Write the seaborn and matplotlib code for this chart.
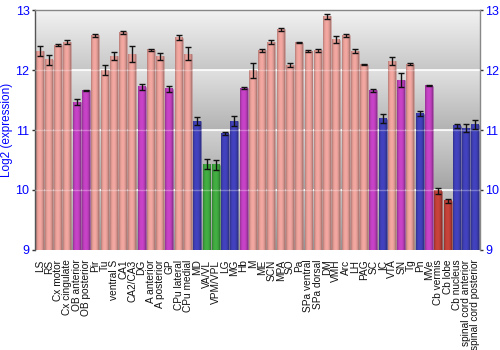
import numpy as np
import pandas as pd
import matplotlib
matplotlib.use('Agg')
import matplotlib.pyplot as plt
import seaborn as sns
from matplotlib.colors import to_rgb

categories = ['LS', 'RS', 'Cx motor', 'Cx cingulate', 'OB anterior', 'OB posterior', 'Pir', 'Tu',
              'ventral S', 'CA1', 'CA2/CA3', 'DG', 'A anterior', 'A posterior', 'GP', 'CPu lateral',
              'CPu medial', 'MD', 'VA/VL', 'VPM/VPL', 'LG', 'MG', 'Hb', 'M', 'ME', 'SCN', 'MPA', 'SO',
              'Pa', 'SPa ventral', 'SPa dorsal', 'DM', 'VMH', 'Arc', 'LH', 'PAG', 'SC', 'IC', 'VTA',
              'SN', 'Tg', 'Pn', 'MVe', 'Cb vermis', 'Cb lobe', 'Cb nucleus', 'spinal cord anterior',
              'spinal cord posterior']
values = [12.32, 12.17, 12.42, 12.47, 11.46, 11.66, 12.58, 12.00,
          12.23, 12.63, 12.27, 11.72, 12.34, 12.23, 11.69, 12.54,
          12.27, 11.15, 10.43, 10.42, 10.94, 11.15, 11.70, 11.99, 12.33, 12.47, 12.68, 12.08,
          12.46, 12.32, 12.33, 12.90, 12.51, 12.58, 12.32, 12.09, 11.66, 11.19, 12.15,
          11.83, 12.10, 11.27, 11.74, 9.99, 9.82, 11.07, 11.03,
          11.09]
errors = [0.08, 0.09, 0.02, 0.04, 0.05, 0.01, 0.03, 0.09,
          0.07, 0.02, 0.13, 0.05, 0.02, 0.06, 0.05, 0.04,
          0.11, 0.06, 0.08, 0.08, 0.03, 0.09, 0.02, 0.13, 0.03, 0.03, 0.03, 0.03,
          0.01, 0.01, 0.03, 0.04, 0.06, 0.03, 0.03, 0.01, 0.02, 0.07, 0.07,
          0.12, 0.01, 0.04, 0.01, 0.05, 0.03, 0.03, 0.07,
          0.08]
groups = ['s', 's', 's', 's', 'p', 'p', 's', 's',
          's', 's', 's', 'p', 's', 's', 'p', 's',
          's', 'b', 'g', 'g', 'b', 'b', 'p', 's', 's', 's', 's', 's',
          's', 's', 's', 's', 's', 's', 's', 's', 'p', 'b', 's',
          'p', 's', 'b', 'p', 'r', 'r', 'b', 'b',
          'b']

group_colors = {'s': '#e9a09a', 'p': '#c040c0', 'b': '#4040b8', 'g': '#40a840', 'r': '#c04038'}

sns.set_theme(style='white')
plt.rcParams['font.family'] = ['Liberation Sans', 'DejaVu Sans']

fig = plt.figure(figsize=(5, 3.5), dpi=100)
ax = fig.add_axes([0.07, 0.286, 0.89, 0.685])

df = pd.DataFrame({'region': categories, 'value': values, 'group': groups})
palette = {c: group_colors[g] for c, g in zip(categories, groups)}
sns.barplot(data=df, x='region', y='value', hue='region', palette=palette, legend=False,
            width=0.86, ax=ax, errorbar=None, saturation=1, zorder=2)

# background: per-band vertical gradient
bands = [(0.95, 0.78), (0.88, 0.70), (0.82, 0.64), (0.76, 0.58)]
rows = []
for top, bot in bands:
    rows.append(np.linspace(top, bot, 100))
bg = np.concatenate(rows)[:, None]
bg = np.repeat(bg[:, :, None], 3, axis=2)
ax.imshow(bg, extent=[0, 1, 0, 1], transform=ax.transAxes, aspect='auto', zorder=0,
          interpolation='bilinear')

# gradient overlay on bars
t = np.linspace(0, 1, 40)
prof = 0.72 + 0.36 * np.clip(np.sin(np.pi * t) ** 0.6, 0, 1)
prof = prof - 0.06 * t
for patch in ax.patches:
    x0 = patch.get_x(); w = patch.get_width(); h = patch.get_height()
    base = np.array(to_rgb(patch.get_facecolor()))
    img = np.clip(base[None, :] * prof[:, None], 0, 1)[None, :, :]
    ax.imshow(img, extent=[x0, x0 + w, 9, h], aspect='auto', zorder=2.1,
              interpolation='bilinear')
    patch.set_edgecolor((0, 0, 0, 0.15))
    patch.set_linewidth(0.5)

for yv in [10, 11, 12]:
    ax.axhline(yv, color='white', lw=1.2, zorder=1)
    ax.axhline(yv, color='white', lw=1.0, alpha=0.3, zorder=3)

ax.errorbar(np.arange(len(categories)), values, yerr=errors, fmt='none', ecolor='#111111',
            elinewidth=1, capsize=2, capthick=1, zorder=4)

ax.set_xlim(-0.5, len(categories) - 0.5)
ax.set_ylim(9, 13)
ax.set_yticks([9, 10, 11, 12, 13])
ax.tick_params(axis='y', left=True, right=True, labelleft=True, labelright=True,
               labelcolor='#0000ff', labelsize=9, length=2.5, width=1, color='#333333',
               direction='out', pad=1.5)
ax.tick_params(axis='x', bottom=False, labelsize=7.3, pad=1, labelcolor='#111111')
plt.setp(ax.get_xticklabels(), rotation=90)
ax.set_xlabel('')
ax.set_ylabel('Log2 (expression)', color='#0000ff', fontsize=8.5, labelpad=2)

ax.spines['left'].set_color('#555555')
ax.spines['top'].set_color('#888888')
ax.spines['right'].set_color('#888888')
ax.spines['bottom'].set_visible(False)
for s in ['left', 'top', 'right']:
    ax.spines[s].set_linewidth(1)

fig.savefig('out.png', dpi=100)
